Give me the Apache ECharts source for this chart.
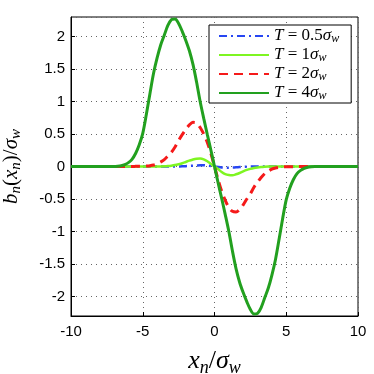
<!DOCTYPE html>
<html>
<head>
<meta charset="utf-8">
<script src="https://cdn.jsdelivr.net/npm/echarts@6/dist/echarts.min.js"></script>
<style>
  html, body { margin: 0; padding: 0; background: #fff; }
  #chart-container { width: 374px; height: 374px; }
</style>
</head>
<body>
<div id="chart-container"></div>
<script>
var dom = document.getElementById("chart-container");
var myChart = echarts.init(dom, null, { renderer: "canvas" });

// x positions (x_n / sigma_w), finer in the middle
const xs = [-10, -9, -8,
  -7, -6.75, -6.5, -6.25, -6, -5.75, -5.5, -5.25, -5, -4.75, -4.5, -4.25, -4, -3.75, -3.5, -3.25,
  -3, -2.75, -2.5, -2.25, -2, -1.75, -1.5, -1.25, -1, -0.75, -0.5, -0.25, 0,
  0.25, 0.5, 0.75, 1, 1.25, 1.5, 1.75, 2, 2.25, 2.5, 2.75, 3, 3.25, 3.5, 3.75, 4,
  4.25, 4.5, 4.75, 5, 5.25, 5.5, 5.75, 6, 6.25, 6.5, 6.75, 7,
  8, 9, 10];

// T = 0.5 sigma_w
const bT05 = [0, 0, 0,
  0, 0, 0, 0, 0, 0, 0, 0, 0, 0, 0, 0, 0, 0, 0, 0,
  0, 0, 0.001, 0.002, 0.005, 0.008, 0.012, 0.016, 0.019, 0.019, 0.015, 0.008, 0,
  -0.008, -0.015, -0.019, -0.019, -0.016, -0.012, -0.008, -0.005, -0.002, -0.001, 0, 0, 0, 0, 0, 0,
  0, 0, 0, 0, 0, 0, 0, 0, 0, 0, 0, 0,
  0, 0, 0];
// T = 1 sigma_w
const bT1 = [0, 0, 0,
  0, 0, 0, 0, 0, 0, 0, 0, 0, 0, 0, 0, 0, 0.001, 0.003, 0.007,
  0.013, 0.022, 0.035, 0.05, 0.07, 0.09, 0.108, 0.12, 0.122, 0.11, 0.08, 0.04, 0,
  -0.04, -0.085, -0.118, -0.132, -0.135, -0.12, -0.1, -0.075, -0.053, -0.036, -0.023, -0.014, -0.008, -0.004, -0.001, 0,
  0, 0, 0, 0, 0, 0, 0, 0, 0, 0, 0, 0,
  0, 0, 0];
// T = 2 sigma_w
const bT2 = [0, 0, 0,
  0, 0, 0, 0, 0.001, 0.001, 0.002, 0.003, 0.004, 0.007, 0.012, 0.022, 0.04, 0.07, 0.105, 0.16,
  0.22, 0.3, 0.4, 0.49, 0.57, 0.64, 0.68, 0.67, 0.6, 0.5, 0.37, 0.2, 0,
  -0.2, -0.38, -0.52, -0.63, -0.69, -0.7, -0.66, -0.59, -0.5, -0.42, -0.32, -0.24, -0.17, -0.11, -0.07, -0.04,
  -0.022, -0.012, -0.007, -0.004, -0.003, -0.002, -0.001, -0.001, 0, 0, 0, 0,
  0, 0, 0];
// T = 4 sigma_w
const bT4 = [0, 0, 0,
  0, 0.004, 0.012, 0.03, 0.06, 0.11, 0.2, 0.33, 0.51, 0.8, 1.12, 1.43, 1.67, 1.87, 2.02, 2.17,
  2.26, 2.27, 2.2, 2.08, 1.94, 1.78, 1.57, 1.3, 1.0, 0.74, 0.49, 0.25, 0,
  -0.25, -0.49, -0.74, -1.0, -1.3, -1.57, -1.78, -1.94, -2.08, -2.2, -2.27, -2.26, -2.17, -2.02, -1.87, -1.67,
  -1.43, -1.12, -0.8, -0.51, -0.33, -0.2, -0.11, -0.06, -0.03, -0.012, -0.004, 0,
  0, 0, 0];

const seriesNames = ["T=0.5", "T=1", "T=2", "T=4"];
const legendLabels = ["0.5", "1", "2", "4"];
const colors = ["#2746f2", "#7ef521", "#f51a1a", "#22a01f"];

function pairs(ys) {
  return xs.map(function (x, i) { return [x, ys[i]]; });
}

const serif = "Liberation Serif";
const sansFont = "Liberation Sans";

function mathStyle(size, subSize, shift) {
  return {
    i: { fontFamily: serif, fontStyle: "italic", fontSize: size, lineHeight: size + 5, color: "#000" },
    r: { fontFamily: serif, fontSize: size, lineHeight: size + 5, color: "#000" },
    s: { fontFamily: serif, fontStyle: "italic", fontSize: subSize, lineHeight: subSize, padding: [shift, 0, 0, 0], color: "#000" },
  };
}

const legendRich = {
  i: { fontFamily: serif, fontStyle: "italic", fontSize: 17, lineHeight: 14, color: "#000" },
  r: { fontFamily: serif, fontSize: 17, lineHeight: 14, color: "#000" },
  s: { fontFamily: serif, fontStyle: "italic", fontSize: 12, lineHeight: 8, padding: [6, 0, 0, 0], color: "#000" },
};

const dashStyles = [[8, 4, 2, 4], "solid", [9, 6], "solid"];
const widths = [2.5, 2.5, 3, 3];

var option = {
  animation: false,
  backgroundColor: "#fff",
  grid: {
    left: 71,
    right: 16,
    top: 17,
    bottom: 58,
    outerBoundsMode: "none",
    show: true,
    borderColor: "#000",
    borderWidth: 1,
    backgroundColor: "transparent",
  },
  legend: {
    orient: "vertical",
    left: 209,
    top: 25,
    padding: [2, 12, 1, 9],
    itemWidth: 50,
    itemHeight: 14,
    itemGap: 1,
    itemStyle: { opacity: 0 },
    borderColor: "#000",
    borderWidth: 1,
    backgroundColor: "#fff",
    data: seriesNames,
    formatter: function (name) {
      const k = seriesNames.indexOf(name);
      return "{i|T}{r| = " + legendLabels[k] + "}{i|σ}{s|w}";
    },
    textStyle: { fontSize: 12, lineHeight: 14, rich: legendRich },
  },
  xAxis: {
    type: "value",
    min: -10,
    max: 10,
    interval: 5,
    name: "{i|x}{s|n}{r|/}{i|σ}{s|w}",
    nameLocation: "middle",
    nameGap: 30,
    nameTextStyle: { rich: mathStyle(26, 18, 13) },
    axisLine: { onZero: false, lineStyle: { color: "#000", width: 1 } },
    axisTick: { inside: true, length: 4, lineStyle: { color: "#000" } },
    axisLabel: { color: "#000", fontFamily: sansFont, fontSize: 15, margin: 8 },
    splitLine: { show: true, lineStyle: { color: "#666", type: [1, 4], width: 1 } },
  },
  yAxis: {
    type: "value",
    min: -2.3,
    max: 2.3,
    splitNumber: 9,
    name: "{i|b}{s|n}{r|(}{i|x}{s|n}{r|)/}{i|σ}{s|w}",
    nameLocation: "middle",
    nameGap: 47,
    nameTextStyle: { rich: mathStyle(21, 15, 11) },
    axisLine: { onZero: false, lineStyle: { color: "#000", width: 1 } },
    axisTick: { inside: true, length: 4, lineStyle: { color: "#000" } },
    axisLabel: {
      color: "#000", fontFamily: sansFont, fontSize: 15, margin: 6,
      showMinLabel: false, showMaxLabel: false,
    },
    splitLine: { show: true, lineStyle: { color: "#666", type: [1, 4], width: 1 } },
  },
  series: [bT05, bT1, bT2, bT4].map(function (ys, k) {
    return {
      name: seriesNames[k],
      type: "line",
      data: pairs(ys),
      smooth: 0.3,
      symbol: "none",
      showSymbol: false,
      z: 2 + k,
      lineStyle: { color: colors[k], width: widths[k], type: dashStyles[k] },
      itemStyle: { color: colors[k] },
    };
  }),
};

myChart.setOption(option);
window.addEventListener("resize", myChart.resize);
</script>
</body>
</html>
